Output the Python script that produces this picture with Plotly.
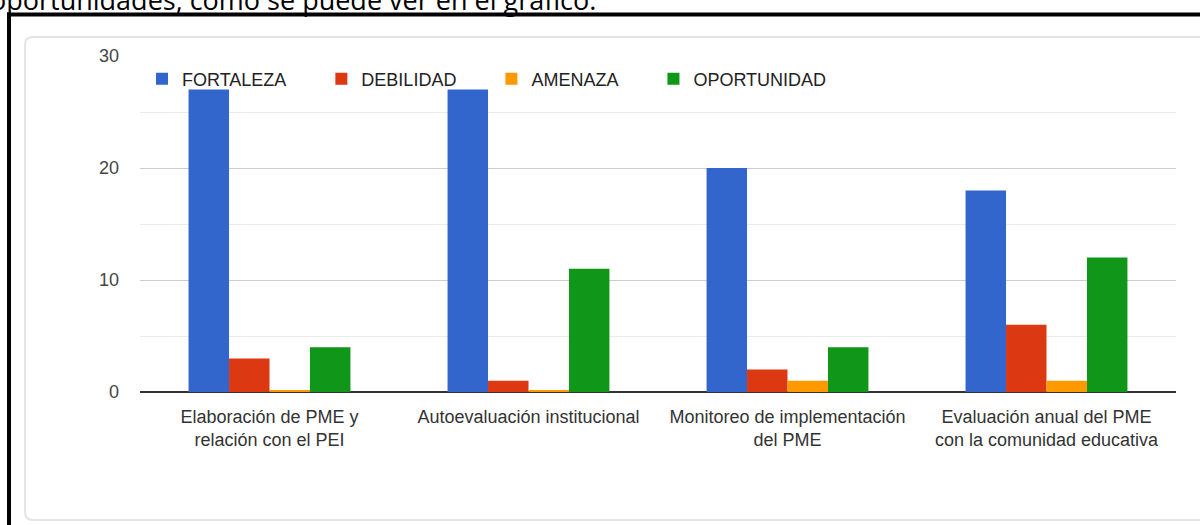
import plotly.graph_objects as go

# ---------------- data ----------------
CATEGORIES = [
    "Elaboración de PME y<br>relación con el PEI",
    "Autoevaluación institucional",
    "Monitoreo de implementación<br>del PME",
    "Evaluación anual del PME<br>con la comunidad educativa",
]
FORTALEZA = [27, 27, 20, 18]
DEBILIDAD = [3, 1, 2, 6]
AMENAZA = [0, 0, 1, 1]
OPORTUNIDAD = [4, 11, 4, 12]
Y_TICKS = [0, 10, 20, 30]
SERIES_NAMES = ["FORTALEZA", "DEBILIDAD", "AMENAZA", "OPORTUNIDAD"]
CAPTION = "oportunidades, como se puede ver en el gráfico."

# ---------------- style ----------------
COLORS = ["#3366cc", "#dc3912", "#ff9900", "#109618"]
FONT = "Liberation Sans, Arial, sans-serif"
W, H = 1200, 525
L, R, T, B = 140, 24, 56, 133          # plot area margins (px)
PW, PH = W - L - R, H - T - B


def px_x(px):
    return (px - L) / PW


def px_y(py):
    return (H - B - py) / PH


fig = go.Figure()
for name, vals, col in zip(SERIES_NAMES, [FORTALEZA, DEBILIDAD, AMENAZA, OPORTUNIDAD], COLORS):
    # zero-valued bars are drawn as a hairline, like the source chart does
    shown = [v if v > 0 else 0.18 for v in vals]
    fig.add_trace(go.Bar(
        x=CATEGORIES, y=shown, name=name + "\u00a0" * 6, customdata=vals,
        hovertemplate="%{x}<br>" + name + ": %{customdata}<extra></extra>",
        marker=dict(color=col, line=dict(width=0)),
    ))

# frame / card decorations
r = 8
cx0, cy0, cy1, cx1 = 25, 37, 520, 1215
card_path = (
    f"M {px_x(cx1)},{px_y(cy0)} L {px_x(cx0 + r)},{px_y(cy0)} "
    f"Q {px_x(cx0)},{px_y(cy0)} {px_x(cx0)},{px_y(cy0 + r)} "
    f"L {px_x(cx0)},{px_y(cy1 - r)} "
    f"Q {px_x(cx0)},{px_y(cy1)} {px_x(cx0 + r)},{px_y(cy1)} "
    f"L {px_x(cx1)},{px_y(cy1)}"
)
shapes = [
    dict(type="path", xref="paper", yref="paper", path=card_path,
         line=dict(color="#e4e4e8", width=2), layer="below"),
    dict(type="line", xref="paper", yref="paper",
         x0=px_x(7), x1=px_x(1210), y0=px_y(14.5), y1=px_y(14.5),
         line=dict(color="#000000", width=4)),
    dict(type="line", xref="paper", yref="paper",
         x0=px_x(9), x1=px_x(9), y0=px_y(12.5), y1=px_y(540),
         line=dict(color="#000000", width=4)),
]

fig.update_layout(
    width=W, height=H,
    margin=dict(l=L, r=R, t=T, b=B, pad=0),
    paper_bgcolor="white", plot_bgcolor="white",
    font=dict(family=FONT, size=18, color="#222222"),
    barmode="group", bargap=0.375, bargroupgap=0,
    showlegend=True,
    legend=dict(orientation="h", x=px_x(142), xanchor="left",
                y=px_y(79), yanchor="middle",
                bgcolor="rgba(0,0,0,0)", font=dict(size=18, color="#222222"),
                traceorder="normal"),
    shapes=shapes,
    annotations=[dict(text=CAPTION, xref="paper", yref="paper",
                      x=px_x(-12), y=px_y(-0.5), xanchor="left", yanchor="middle",
                      showarrow=False,
                      font=dict(family="Open Sans, sans-serif", size=27, color="#000000"))],
)
fig.update_xaxes(showgrid=False, showline=False, ticks="",
                 tickfont=dict(size=18, color="#333333"), ticklabelstandoff=12)
fig.update_yaxes(range=[0, 30], tickvals=Y_TICKS, showgrid=True, gridcolor="#cccccc",
                 gridwidth=1, zeroline=True, zerolinecolor="#333333", zerolinewidth=2,
                 showline=False, ticks="", tickfont=dict(size=18, color="#444444"),
                 ticklabelstandoff=20,
                 minor=dict(dtick=5, tick0=0, showgrid=True, gridcolor="#ebebeb", gridwidth=1))

fig.write_html(
    "out.html",
    config={"displayModeBar": False},
    post_script="document.body.style.margin='0';document.body.style.overflow='hidden';",
)
